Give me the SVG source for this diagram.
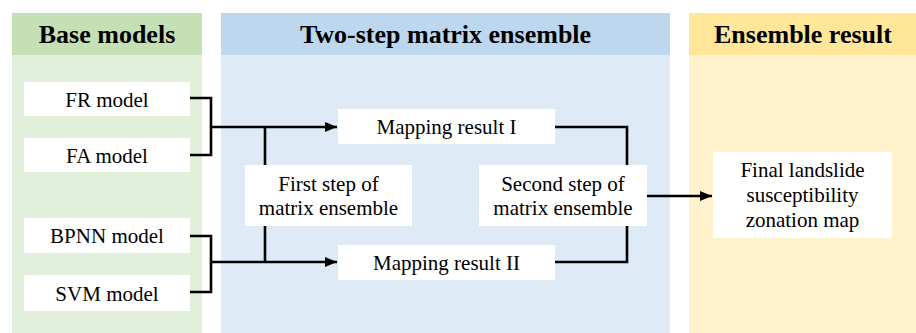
<svg xmlns="http://www.w3.org/2000/svg" width="916" height="333" viewBox="0 0 916 333">
<style>
text{font-family:'Liberation Serif','Times New Roman',Times,'DejaVu Serif',serif;fill:#000;text-anchor:middle}
.hdr{font-weight:bold;font-size:26px}
.t{font-size:21px}
.box{fill:#fff}
.ln{fill:none;stroke:#000;stroke-width:2.6}
</style>
<defs>
<marker id="arr" markerWidth="12" markerHeight="10" refX="12" refY="5" orient="auto" markerUnits="userSpaceOnUse">
<path d="M0,0 L12,5 L0,10 Z" fill="#000"/>
</marker>
</defs>
<rect width="916" height="333" fill="#fff"/>
<g id="panel-base">
<rect x="12" y="55" width="190" height="278" fill="#e2efda"/>
<rect x="12" y="13" width="190" height="42" fill="#c5e0b4"/>
<text class="hdr" x="107" y="43" font-family="Liberation Serif, serif">Base models</text>
</g>
<g id="panel-two-step">
<rect x="221" y="55" width="449" height="278" fill="#deebf7"/>
<rect x="221" y="13" width="449" height="42" fill="#bdd7ee"/>
<text class="hdr" x="445.5" y="43" font-family="Liberation Serif, serif">Two-step matrix ensemble</text>
</g>
<g id="panel-result">
<rect x="689" y="55" width="227" height="278" fill="#fff2cc"/>
<rect x="689" y="13" width="227" height="42" fill="#ffe699"/>
<text class="hdr" x="803" y="43" font-family="Liberation Serif, serif">Ensemble result</text>
</g>
<g id="connectors">
<polyline class="ln" points="190,98 211,98 211,155 190,155"/>
<line class="ln" x1="211" y1="127" x2="337" y2="127" marker-end="url(#arr)"/>
<line class="ln" x1="265" y1="127" x2="265" y2="165"/>
<polyline class="ln" points="190,236 211,236 211,292 190,292"/>
<line class="ln" x1="211" y1="262" x2="337" y2="262" marker-end="url(#arr)"/>
<line class="ln" x1="265" y1="226" x2="265" y2="262"/>
<polyline class="ln" points="555,127 627,127 627,165"/>
<polyline class="ln" points="555,262 627,262 627,226"/>
<line class="ln" x1="647" y1="196" x2="712" y2="196" marker-end="url(#arr)"/>
</g>
<g id="fr"><rect class="box" x="24" y="82" width="166" height="34"/><text class="t" x="107" y="106.5" font-family="Liberation Serif, serif">FR model</text></g>
<g id="fa"><rect class="box" x="24" y="138" width="166" height="34"/><text class="t" x="107" y="162.5" font-family="Liberation Serif, serif">FA model</text></g>
<g id="bpnn"><rect class="box" x="24" y="218" width="166" height="35"/><text class="t" x="107" y="243" font-family="Liberation Serif, serif">BPNN model</text></g>
<g id="svm"><rect class="box" x="24" y="275" width="166" height="36"/><text class="t" x="107" y="300.5" font-family="Liberation Serif, serif">SVM model</text></g>
<g id="map1"><rect class="box" x="338" y="109" width="217" height="35"/><text class="t" x="446.5" y="134" font-family="Liberation Serif, serif">Mapping result I</text></g>
<g id="map2"><rect class="box" x="338" y="245" width="217" height="35"/><text class="t" x="446.5" y="270" font-family="Liberation Serif, serif">Mapping result II</text></g>
<g id="first"><rect class="box" x="245" y="165" width="167" height="61"/><text class="t" x="328.5" y="191" font-family="Liberation Serif, serif">First step of</text><text class="t" x="328.5" y="215" font-family="Liberation Serif, serif">matrix ensemble</text></g>
<g id="second"><rect class="box" x="479" y="165" width="168" height="61"/><text class="t" x="563" y="191" font-family="Liberation Serif, serif">Second step of</text><text class="t" x="563" y="215" font-family="Liberation Serif, serif">matrix ensemble</text></g>
<g id="final"><rect class="box" x="713" y="152" width="179" height="86"/><text class="t" x="802.5" y="177" font-family="Liberation Serif, serif">Final landslide</text><text class="t" x="802.5" y="202" font-family="Liberation Serif, serif">susceptibility</text><text class="t" x="802.5" y="227" font-family="Liberation Serif, serif">zonation map</text></g>
</svg>
